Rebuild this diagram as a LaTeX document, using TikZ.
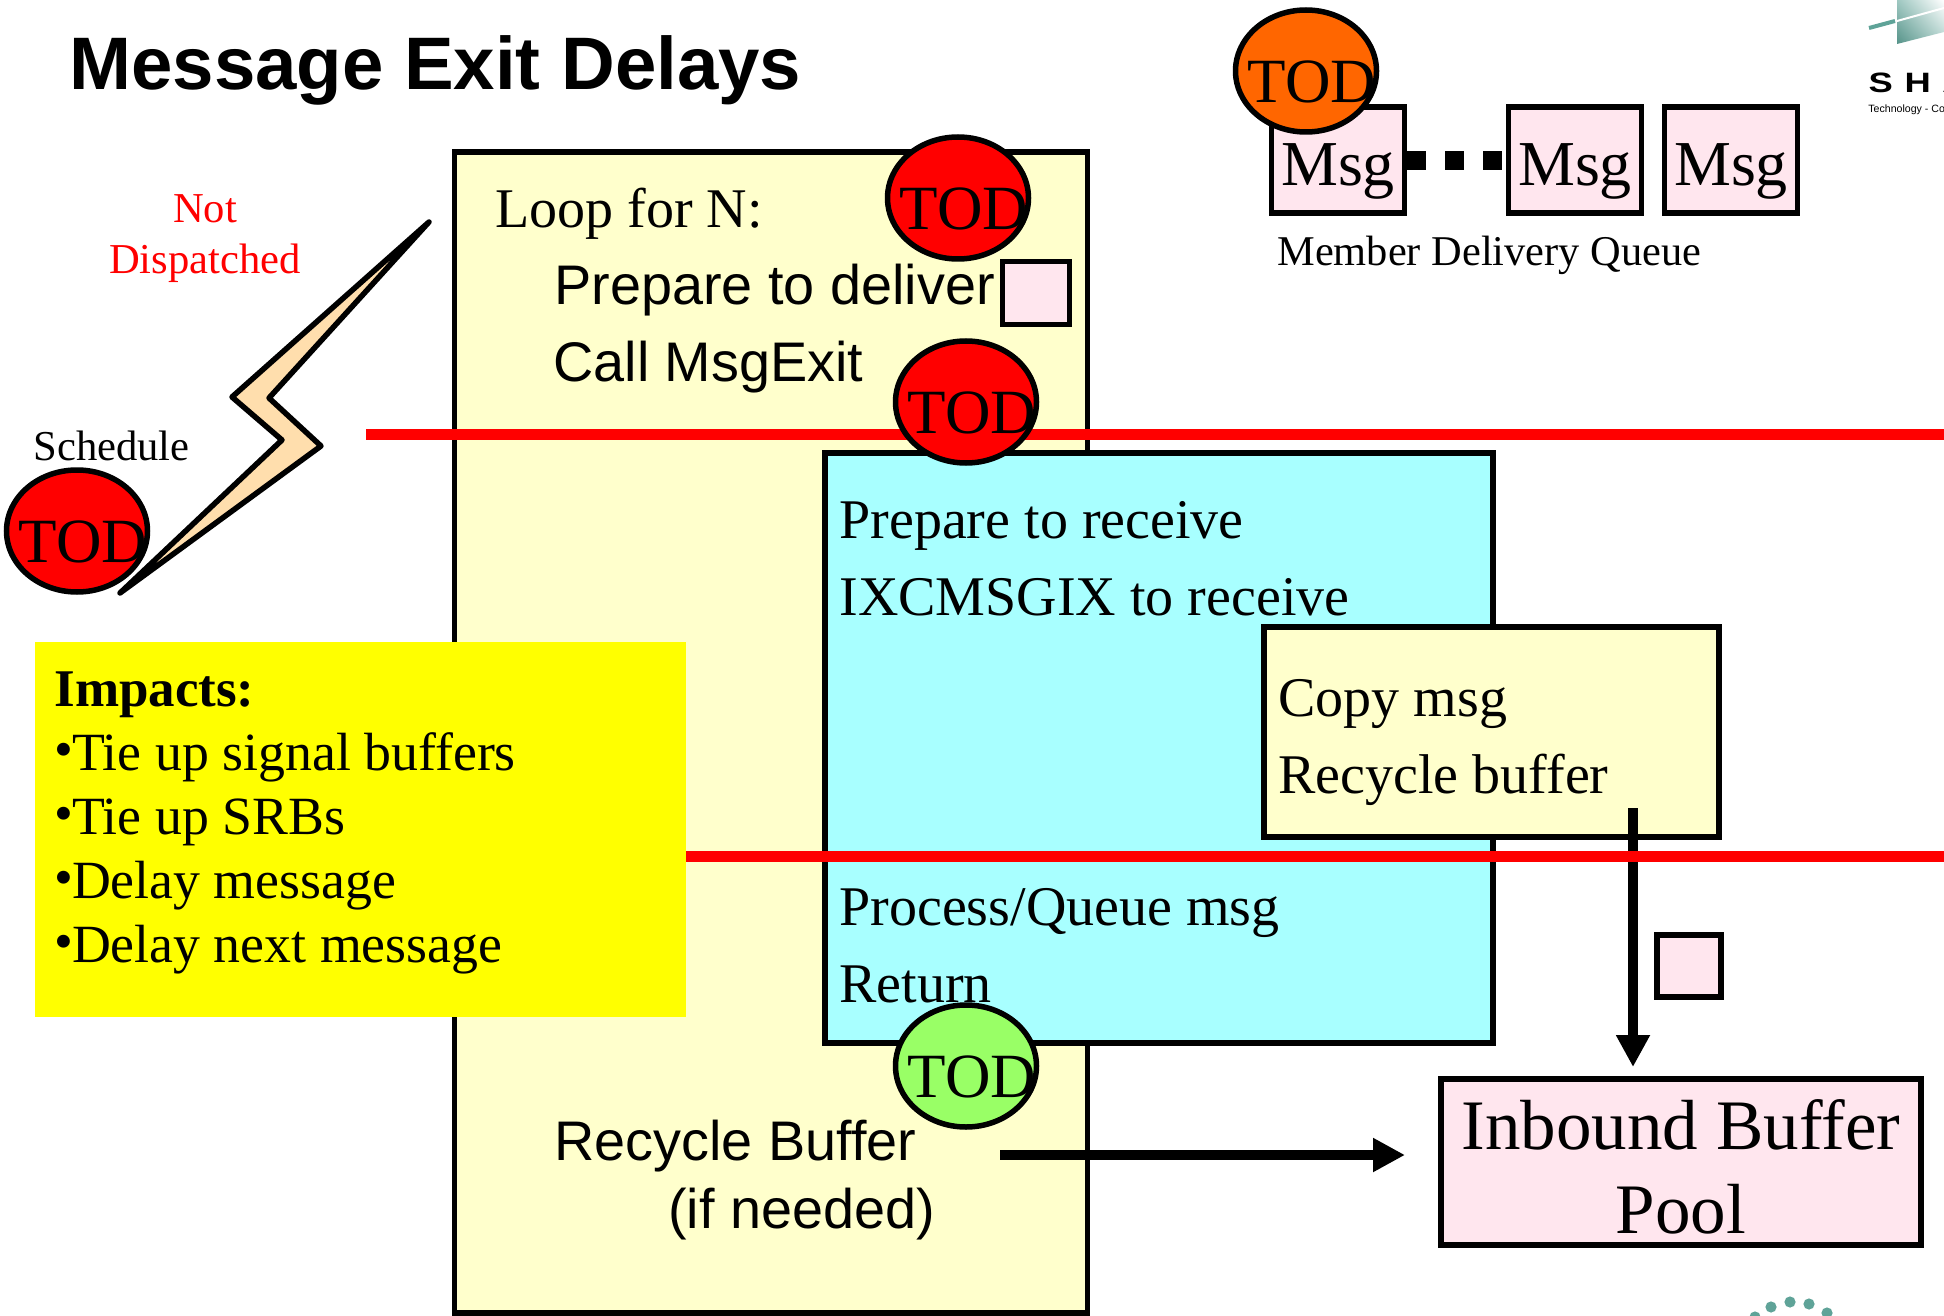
\documentclass[tikz,border=0pt]{standalone}
\usepackage{fontspec}
\setmainfont{Liberation Serif}
\setsansfont{Liberation Sans}
\usetikzlibrary{shapes.geometric,arrows.meta,shadings}
\definecolor{cream}{HTML}{FFFFCC}
\definecolor{aqua}{HTML}{A8FFFF}
\definecolor{blush}{HTML}{FFE6EE}
\definecolor{peach}{HTML}{FFDEAD}
\definecolor{lime}{HTML}{99FF66}
\definecolor{tangerine}{HTML}{FF6600}
\definecolor{lemon}{HTML}{FFFF00}
\definecolor{teal}{HTML}{5FA398}
\newcommand{\bul}{\makebox[8.8pt][l]{\raisebox{1.3pt}{•}}}
\begin{document}
\begin{tikzpicture}[x=0.5pt,y=-0.5pt,
    box/.style={draw,line width=2.75pt,inner sep=0pt},
    msg/.style={box,fill=blush,minimum width=66.5pt,minimum height=53pt,font=\fontsize{32}{32}\selectfont,text height=33pt,text depth=7pt},
    tod/.style={draw,ellipse,line width=2.75pt,inner sep=0pt,minimum width=70.5pt,minimum height=61pt,
      label={[font=\fontsize{31.5}{32}\selectfont,yshift=-5.5pt,xshift=3pt,inner sep=0pt]center:TOD}},
    txt/.style={anchor=base west,inner sep=0pt,font=\fontsize{28}{28}\selectfont},
    sans/.style={anchor=base west,inner sep=0pt,font=\sffamily\fontsize{27.9}{28}\selectfont},
    imp/.style={txt,font=\fontsize{26.9}{27}\selectfont},
    small/.style={txt,font=\fontsize{21.3}{22}\selectfont},
    redline/.style={draw=red,line width=5.5pt},
    bigarrow/.style={line width=5.25pt,-{Triangle[length=16pt,width=16pt]}}]
  \path[use as bounding box,clip] (0,0) rectangle (1944,1316);
  \fill[white] (0,0) rectangle (1944,1316);

  \node (title) at (69,90) [anchor=base west,inner sep=0pt,font=\sffamily\bfseries\fontsize{37.2}{38}\selectfont] {Message Exit Delays};

  \node[box,fill=cream,minimum width=316.5pt,minimum height=580.5pt] (loop) at (771,732.5) {};
  \node[txt] (loopn) at (495,228) {Loop for N:};
  \node[sans] (prep) at (554,305) {Prepare to deliver};
  \node[sans] (call) at (553,381) {Call MsgExit};
  \node[box,fill=blush,minimum width=33.5pt,minimum height=31.5pt] (sig) at (1036,293) {};
  \node[sans] (recycle) at (554,1160) {Recycle Buffer};
  \node[sans] (ifneed) at (668,1228) {(if needed)};

  \coordinate (redstart) at (366,434);
  \coordinate (redend) at (1944,434);
  \draw[redline] (redstart) -- (redend);

  \node[box,fill=aqua,minimum width=334pt,minimum height=295pt] (recv) at (1159,748) {};
  \node[txt] (prepr) at (839,538) {Prepare to receive};
  \node[txt] (ixc) at (839,615) {IXCMSGIX to receive};
  \node[txt] (proc) at (839,925) {Process/Queue msg};
  \node[txt] (ret) at (839,1002) {Return};

  \node[box,fill=cream,minimum width=227.5pt,minimum height=105pt] (copy) at (1491.5,732) {};
  \node[txt] (copym) at (1278,716) {Copy msg};
  \node[txt] (recb) at (1278,793) {Recycle buffer};

  \node[fill=lemon,inner sep=0pt,minimum width=325.5pt,minimum height=187.5pt] (impacts) at (360.5,829.5) {};
  \node[imp,font=\bfseries\fontsize{26.5}{27}\selectfont] (imp0) at (54,706) {Impacts:};
  \node[imp] (imp1) at (54,770) {\bul Tie up signal buffers};
  \node[imp] (imp2) at (54,834) {\bul Tie up SRBs};
  \node[imp] (imp3) at (54,898) {\bul Delay message};
  \node[imp] (imp4) at (54,962) {\bul Delay next message};

  \node[tod,fill=red] (tod1) at (958,198) {};
  \node[tod,fill=red] (tod2) at (966,402) {};
  \node[tod,fill=lime] (tod3) at (966,1066) {};
  \node[tod,fill=red] (tod4) at (77,531) {};

  \node[small,anchor=base,text=red] (not) at (205,223) {Not};
  \node[small,anchor=base,text=red] (disp) at (205,274) {Dispatched};
  \node[small] (sched) at (33,460) {Schedule};

  \coordinate (b1) at (429,222);
  \coordinate (b2) at (232,397);
  \coordinate (b3) at (282,440);
  \coordinate (b4) at (120,593);
  \coordinate (b5) at (321,446);
  \coordinate (b6) at (269,398);
  \draw[line width=2.75pt,line join=round,fill=peach] (b1) -- (b2) -- (b3) -- (b4) -- (b5) -- (b6) -- cycle;

  \node[msg] (m1) at (1338,160) {Msg};
  \node[msg] (m2) at (1575,160) {Msg};
  \node[msg] (m3) at (1731,160) {Msg};
  \draw[line width=9.5pt,dash pattern=on 9.5pt off 9.5pt] ([yshift=-0.5pt]m1.east) -- ([yshift=-0.5pt]m2.west);
  \node[tod,fill=tangerine] (tod5) at (1306,71) {};
  \node[small,font=\fontsize{21.2}{22}\selectfont] (queue) at (1277,266) {Member Delivery Queue};

  \node[box,fill=blush,minimum width=240pt,minimum height=83pt] (pool) at (1681,1162) {};
  \node[align=center,inner sep=0pt,font=\fontsize{35.5}{42}\selectfont] (pooltxt) at (1681,1167) {Inbound Buffer\\Pool};
  \node[box,fill=blush,minimum width=32pt,minimum height=31pt] (sig2) at (1689,966) {};

  \coordinate (downs) at (1633,808);
  \coordinate (downe) at (1633,1067);
  \coordinate (rights) at (1000,1155);
  \coordinate (righte) at (1405,1155);
  \draw[bigarrow] (downs) -- (downe);
  \draw[bigarrow] (rights) -- (righte);

  \coordinate (red2start) at (686,856);
  \coordinate (red2end) at (1944,856);
  \draw[redline] (red2start) -- (red2end);

  \shade[lower left=teal!90!black,upper left=teal!60,lower right=teal!50,upper right=white] (1897,0) -- (1944,0) -- (1944,32) -- (1897,44) -- cycle;
  \draw[teal,line width=2pt] (1869,28) -- (1895,21);
  \draw[white,line width=1pt] (1897,21) -- (1944,8);
  \node[anchor=base west,inner sep=0pt,xscale=1.3,transform shape,font=\sffamily\bfseries\fontsize{14}{14}\selectfont] (share) at (1868,93) {S\hspace{4.5pt}H\hspace{4.5pt}A};
  \node[anchor=base west,inner sep=0pt,font=\sffamily\fontsize{5.3}{6}\selectfont] (tech) at (1868,113) {Technology - Co};

  \foreach \px/\py in {1755/1317,1771/1307,1790/1302,1809/1304,1827/1313}
    \fill[teal] (\px,\py) circle (2.8pt);
\end{tikzpicture}
\end{document}
